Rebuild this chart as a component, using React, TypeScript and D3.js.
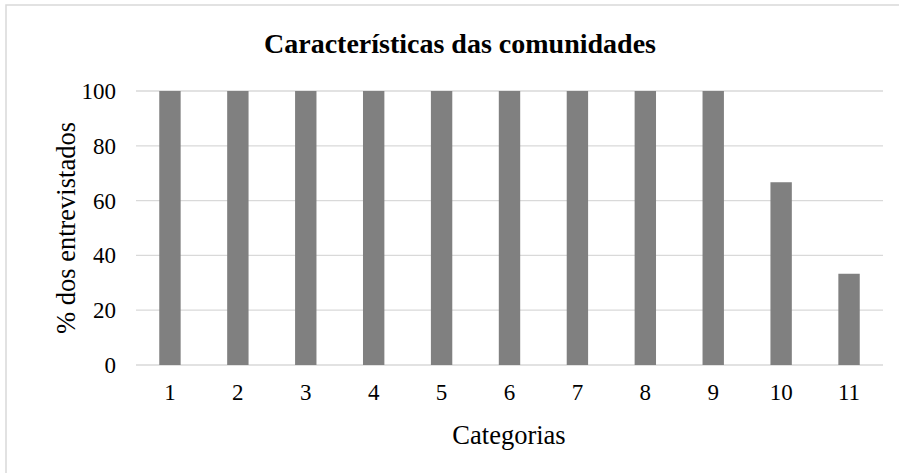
import React from "react";
import * as d3 from "d3";

const categories = ["1", "2", "3", "4", "5", "6", "7", "8", "9", "10", "11"];
const values = [100, 100, 100, 100, 100, 100, 100, 100, 100, 66.7, 33.3];
const yTicks = [0, 20, 40, 60, 80, 100];

const W = 899;
const H = 473;
const left = 136;
const right = 883;
const top = 91;
const bottom = 365;
const font = "'Liberation Serif', 'Times New Roman', serif";

export default function App() {
  const x = d3.scaleBand<string>().domain(categories).range([left, right]).padding(0);
  const y = d3.scaleLinear().domain([0, 100]).range([bottom, top]);
  const bw = x.step() * 0.315;
  return (
    <svg width={W} height={H} style={{ position: "absolute", left: 0, top: 0, background: "#fff" }}>
      <rect x={6} y={5} width={W + 10} height={H + 10} fill="#fff" stroke="#d9d9d9" strokeWidth={1.5} />
      <text x={460} y={53} textAnchor="middle" fontFamily={font} fontWeight="bold" fontSize={28} fill="#000">
        Características das comunidades
      </text>
      {yTicks.map((t) => (
        <g key={t}>
          <line x1={left} x2={right} y1={y(t)} y2={y(t)} stroke="#d9d9d9" strokeWidth={1.3} />
          <text x={116} y={y(t) + 8} textAnchor="end" fontFamily={font} fontSize={23} fill="#000">
            {t}
          </text>
        </g>
      ))}
      {categories.map((c, i) => (
        <g key={c}>
          <rect
            x={(x(c) as number) + x.step() / 2 - bw / 2}
            y={y(values[i])}
            width={bw}
            height={y(0) - y(values[i])}
            fill="#808080"
          />
          <text x={(x(c) as number) + x.step() / 2} y={400} textAnchor="middle" fontFamily={font} fontSize={23} fill="#000">
            {c}
          </text>
        </g>
      ))}
      <text x={509} y={444} textAnchor="middle" fontFamily={font} fontSize={26.5} fill="#000">
        Categorias
      </text>
      <text
        transform={`translate(75, 228) rotate(-90)`}
        textAnchor="middle"
        fontFamily={font}
        fontSize={26.5}
        fill="#000"
      >
        % dos entrevistados
      </text>
    </svg>
  );
}
